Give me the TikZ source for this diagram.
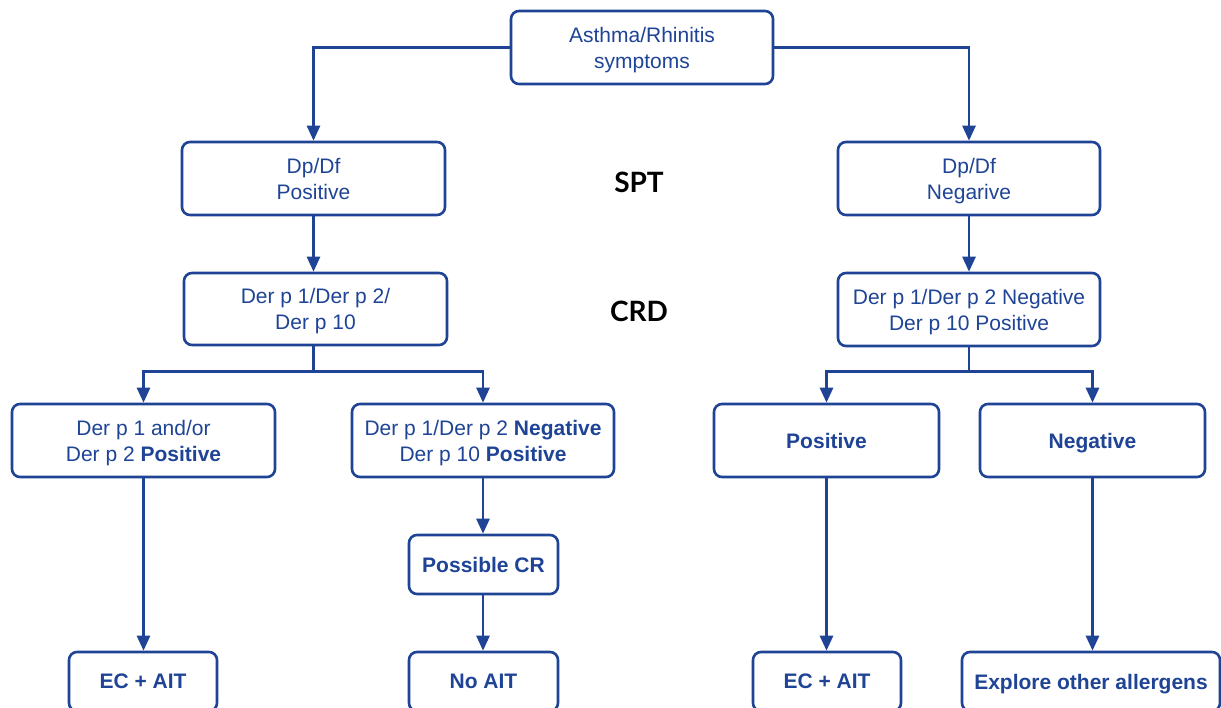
\documentclass[tikz,border=0pt]{standalone}
\usepackage{fontspec}
\setmainfont{Liberation Sans}
\newfontfamily\latofont{Lato}
\usetikzlibrary{arrows.meta}
\definecolor{fcblue}{HTML}{1F4496}
\tikzset{
  box/.style={draw=fcblue, line width=2.6pt, rounded corners=8pt, text=fcblue,
    align=center, inner sep=0pt, text depth=0pt, font=\fontsize{21}{26}\selectfont},
  bbox/.style={box, font=\fontsize{21}{26}\selectfont\bfseries},
  conn/.style={draw=fcblue, line width=2.6pt},
  arr/.style={conn, -{Triangle[length=15pt,width=13pt]}},
  lbl/.style={font=\latofont\bfseries\fontsize{28}{30}\selectfont, text=black}
}
\begin{document}
\begin{tikzpicture}[x=1pt,y=-1pt]
\useasboundingbox (0,0) rectangle (1221,708);
\fill[white] (0,0) rectangle (1221,708);
\clip (0,0) rectangle (1221,708);
% nodes
\node[box, minimum width=262pt, minimum height=73pt] (top) at (642,47.5) {Asthma/Rhinitis\\symptoms};
\node[box, minimum width=263pt, minimum height=73pt] (dpp) at (313.5,178.5) {Dp/Df\\Positive};
\node[box, minimum width=262pt, minimum height=73pt] (dpn) at (969,178.5) {Dp/Df\\Negarive};
\node[box, minimum width=263pt, minimum height=72pt] (crl) at (315.5,309) {Der p 1/Der p 2/\\Der p 10};
\node[box, minimum width=262pt, minimum height=73pt] (crr) at (969,309.5) {Der p 1/Der p 2 Negative\\Der p 10 Positive};
\node[box, minimum width=263pt, minimum height=73pt] (a1) at (143.5,440.5) {Der p 1 and/or\\Der p 2 \textbf{Positive}};
\node[box, minimum width=262pt, minimum height=73pt] (a2) at (483,440.5) {Der p 1/Der p 2 \textbf{Negative}\\Der p 10 \textbf{Positive}};
\node[bbox, minimum width=225pt, minimum height=73pt] (b1) at (826.5,440.5) {Positive};
\node[bbox, minimum width=225pt, minimum height=73pt] (b2) at (1092.5,440.5) {Negative};
\node[bbox, minimum width=149pt, minimum height=59pt] (pcr) at (483.5,564.5) {Possible CR};
\node[bbox, minimum width=148pt, minimum height=59pt] (e1) at (143,681.5) {EC + AIT};
\node[bbox, minimum width=149pt, minimum height=59pt] (na) at (483.5,681.5) {No AIT};
\node[bbox, minimum width=148pt, minimum height=59pt] (e2) at (827,681.5) {EC + AIT};
\node[bbox, minimum width=258pt, minimum height=59pt] (ex) at (1091,681.5) {Explore other allergens};
% labels
\node[lbl] (spt) at (639,182) {SPT};
\node[lbl] (crd) at (639,311) {CRD};
% connectors
\draw[arr] (top.west) -| (dpp.north);
\draw[arr] (top.east) -| (dpn.north);
\draw[arr] (dpp.south) -- (dpp.south |- crl.north);
\draw[arr] (dpn.south) -- (crr.north);
\coordinate (jl) at (313.5,371.5);
\coordinate (jr) at (969,371.5);
\draw[conn] (dpp.south |- crl.south) -- (jl);
\draw[conn] (crr.south) -- (jr);
\draw[arr] (jl) -| (a1.north);
\draw[arr] (jl) -| (a2.north);
\draw[arr] (jr) -| (b1.north);
\draw[arr] (jr) -| (b2.north);
\draw[arr] (a1.south) -- (a1.south |- e1.north);
\draw[arr] (a2.south) -- (a2.south |- pcr.north);
\draw[arr] (a2.south |- pcr.south) -- (a2.south |- na.north);
\draw[arr] (b1.south) -- (b1.south |- e2.north);
\draw[arr] (b2.south) -- (b2.south |- ex.north);
\end{tikzpicture}
\end{document}
